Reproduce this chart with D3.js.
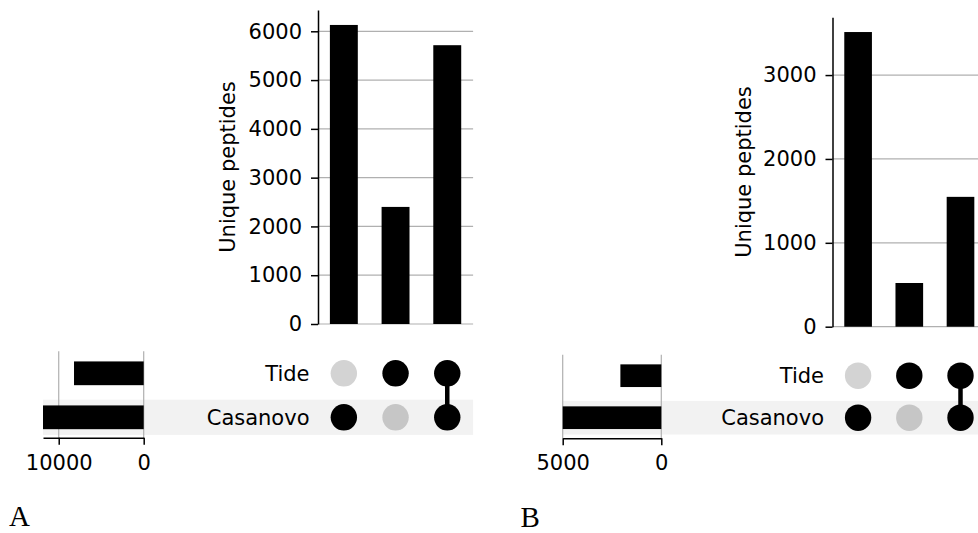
<!DOCTYPE html>
<html>
<head>
<meta charset="utf-8">
<script src="https://cdn.jsdelivr.net/npm/d3@7"></script>
<style>
  html, body { margin: 0; padding: 0; background: #fff; }
  svg { display: block; }
  text { font-family: "DejaVu Sans", sans-serif; fill: #000; }
  .panel-label { font-family: "Liberation Serif", "DejaVu Serif", serif; }
</style>
</head>
<body>
<svg id="chart" width="978" height="533"></svg>
<script>
// Sets shown as matrix rows (top to bottom) and the intersections shown as columns
const setNames = ["Tide", "Casanovo"];
const intersections = [["Casanovo"], ["Tide"], ["Tide", "Casanovo"]];

// Panel A: unique peptides per intersection and per set
const peptidesA = [6130, 2400, 5715];
const totalsA = [8200, 11850];          // Tide, Casanovo
const barTicksA = [0, 1000, 2000, 3000, 4000, 5000, 6000];
const totalTicksA = [10000, 0];

// Panel B: unique peptides per intersection and per set
const peptidesB = [3513, 521, 1548];
const totalsB = [2075, 5000];           // Tide, Casanovo
const barTicksB = [0, 1000, 2000, 3000];
const totalTicksB = [5000, 0];

const yLabel = "Unique peptides";

const svg = d3.select("#chart");

function drawUpset(cfg) {
  const g = svg.append("g");
  const gridColor = "#b0b0b0";
  const fs = 21;

  // ---- intersection bar chart ----
  const x = d3.scaleBand()
    .domain(d3.range(cfg.intersections.length))
    .range([cfg.barsLeft, cfg.barsLeft + cfg.step * cfg.intersections.length])
    .paddingInner(0).paddingOuter(0);
  const y = d3.scaleLinear()
    .domain([0, d3.max(cfg.values) * 1.05])
    .range([cfg.barsBottom, cfg.barsTop]);

  // horizontal grid lines
  g.append("g").selectAll("line").data(cfg.barTicks).join("line")
    .attr("x1", cfg.barsLeft).attr("x2", x.range()[1])
    .attr("y1", d => y(d)).attr("y2", d => y(d))
    .attr("stroke", gridColor).attr("stroke-width", 1.2);

  const barW = x.bandwidth() * 0.54;
  g.append("g").selectAll("rect").data(cfg.values).join("rect")
    .attr("x", (d, i) => x(i) + (x.bandwidth() - barW) / 2)
    .attr("width", barW)
    .attr("y", d => y(d))
    .attr("height", d => y(0) - y(d))
    .attr("fill", "#000");

  const yAxis = g.append("g")
    .attr("transform", `translate(${cfg.barsLeft},0)`)
    .call(d3.axisLeft(y).tickValues(cfg.barTicks).tickFormat(d3.format("d"))
      .tickSize(7).tickSizeOuter(0).tickPadding(9));
  yAxis.selectAll("path, line").attr("stroke", "#000").attr("stroke-width", 1.5);
  yAxis.selectAll("text").attr("font-size", fs).attr("font-family", "DejaVu Sans");

  g.append("text")
    .attr("transform", `translate(${cfg.yLabelX},${(cfg.barsTop + cfg.barsBottom) / 2}) rotate(-90)`)
    .attr("text-anchor", "middle")
    .attr("dy", "0.35em")
    .attr("font-size", fs)
    .text(yLabel);

  // ---- matrix rows ----
  const row = d3.scaleBand()
    .domain(setNames)
    .range([cfg.rowsTop, cfg.rowsTop + cfg.rowStep * setNames.length]);
  const rowC = s => row(s) + row.bandwidth() / 2;

  const tx = d3.scaleLinear()
    .domain([0, d3.max(cfg.totals)])
    .range([cfg.totalsZero, cfg.totalsLeft]);

  // stripe behind alternate rows
  const stripeH = row.bandwidth() * 0.8;
  g.append("g").selectAll("rect").data(setNames.filter((s, i) => i % 2 === 1)).join("rect")
    .attr("x", cfg.totalsLeft)
    .attr("width", x.range()[1] - cfg.totalsLeft)
    .attr("y", s => rowC(s) - stripeH / 2)
    .attr("height", stripeH)
    .attr("fill", "#f2f2f2");

  // set totals: vertical grid lines
  g.append("g").selectAll("line").data(cfg.totalTicks).join("line")
    .attr("x1", d => tx(d)).attr("x2", d => tx(d))
    .attr("y1", cfg.rowsTop).attr("y2", cfg.totalsAxisY)
    .attr("stroke", gridColor).attr("stroke-width", 1.2);

  const totalH = row.bandwidth() * 0.54;
  g.append("g").selectAll("rect").data(cfg.totals).join("rect")
    .attr("x", d => tx(d))
    .attr("width", d => tx(0) - tx(d))
    .attr("y", (d, i) => rowC(setNames[i]) - totalH / 2)
    .attr("height", totalH)
    .attr("fill", "#000");

  const xAxis = g.append("g")
    .attr("transform", `translate(0,${cfg.totalsAxisY})`)
    .call(d3.axisBottom(tx).tickValues(cfg.totalTicks).tickFormat(d3.format("d"))
      .tickSize(7).tickSizeOuter(0).tickPadding(10));
  xAxis.selectAll("path, line").attr("stroke", "#000").attr("stroke-width", 1.5);
  xAxis.selectAll("text").attr("font-size", fs).attr("font-family", "DejaVu Sans");

  // set names
  g.append("g").selectAll("text").data(setNames).join("text")
    .attr("x", cfg.namesRight)
    .attr("y", s => rowC(s))
    .attr("dy", "0.35em")
    .attr("text-anchor", "end")
    .attr("font-size", fs)
    .text(s => s);

  // connectors and dots
  const cols = g.append("g").selectAll("g").data(cfg.intersections).join("g");
  cols.each(function (members, i) {
    const cg = d3.select(this);
    const cx = x(i) + x.bandwidth() / 2;
    const ys = members.map(rowC);
    if (ys.length > 1) {
      cg.append("line")
        .attr("x1", cx).attr("x2", cx)
        .attr("y1", d3.min(ys)).attr("y2", d3.max(ys))
        .attr("stroke", "#000").attr("stroke-width", 4.5);
    }
    setNames.forEach((s, j) => {
      const on = members.includes(s);
      cg.append("circle")
        .attr("cx", cx).attr("cy", rowC(s)).attr("r", 13.2)
        .attr("fill", on ? "#000" : (j % 2 === 1 ? "#c6c6c6" : "#d3d3d3"));
    });
  });

  // panel letter
  g.append("text")
    .attr("class", "panel-label")
    .attr("x", cfg.letterX).attr("y", cfg.letterY)
    .attr("font-size", 29)
    .text(cfg.letter);
}

drawUpset({
  letter: "A", letterX: 9, letterY: 526,
  intersections, values: peptidesA, totals: totalsA,
  barTicks: barTicksA, totalTicks: totalTicksA,
  barsLeft: 318, step: 51.7, barsTop: 10, barsBottom: 324,
  yLabelX: 228,
  rowsTop: 351.3, rowStep: 44,
  totalsZero: 143.7, totalsLeft: 43, totalsAxisY: 437.7,
  namesRight: 309.5
});

drawUpset({
  letter: "B", letterX: 520.5, letterY: 526.5,
  intersections, values: peptidesB, totals: totalsB,
  barTicks: barTicksB, totalTicks: totalTicksB,
  barsLeft: 832.5, step: 51.2, barsTop: 17.3, barsBottom: 326.7,
  yLabelX: 744,
  rowsTop: 354.7, rowStep: 42,
  totalsZero: 661.3, totalsLeft: 562.7, totalsAxisY: 438.3,
  namesRight: 824
});
</script>
</body>
</html>
